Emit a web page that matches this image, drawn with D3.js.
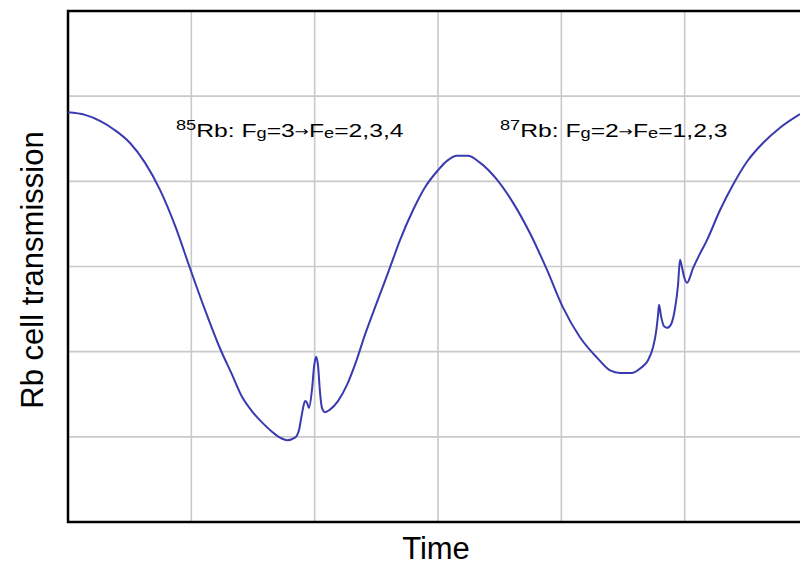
<!DOCTYPE html>
<html>
<head>
<meta charset="utf-8">
<script src="https://cdn.jsdelivr.net/npm/d3@7/dist/d3.min.js"></script>
<style>
  html, body { margin: 0; padding: 0; background: #fff; }
  svg { display: block; }
  text { font-family: "Liberation Sans", Arial, Helvetica, sans-serif; fill: #000; }
</style>
</head>
<body>
<svg id="chart" width="800" height="567"></svg>
<script>
// Time (arbitrary units, gridline every 100)
const time = [0, 13.8, 25.9, 38.1, 50.3, 62.4, 74.6, 86.8, 98.9, 111.1, 123.2, 133.0, 141.1, 149.2, 157.3, 165.4, 171.9, 177.6, 184.1, 187.3, 189.7, 192.2, 193.8, 195.4, 197.8, 199.5, 201.1, 202.7, 204.3, 205.9, 208.4, 212.4, 218.9, 226.2, 233.5, 240.8, 251.3, 261.1, 269.2, 279.7, 289.5, 300.0, 307.3, 315.4, 324.3, 334.0, 347.8, 360.8, 374.6, 388.4, 401.3, 415.1, 428.9, 439.5, 447.6, 457.3, 464.6, 470.3, 474.3, 476.8, 478.4, 479.2, 480.8, 483.2, 485.7, 488.9, 492.2, 494.6, 496.2, 497.8, 499.5, 501.9, 506.8, 512.4, 518.1, 528.6, 539.2, 550.5, 563.5, 577.3, 593.5];
// Rb cell transmission (arbitrary units, gridline every 1)
const transmission = [4.81, 4.78, 4.71, 4.60, 4.45, 4.22, 3.90, 3.48, 2.98, 2.49, 2.04, 1.73, 1.47, 1.30, 1.17, 1.06, 0.99, 0.96, 0.99, 1.08, 1.27, 1.42, 1.40, 1.34, 1.55, 1.82, 1.94, 1.84, 1.53, 1.34, 1.29, 1.32, 1.42, 1.61, 1.88, 2.20, 2.61, 2.99, 3.31, 3.66, 3.93, 4.13, 4.24, 4.30, 4.30, 4.22, 4.02, 3.75, 3.39, 2.96, 2.52, 2.17, 1.93, 1.78, 1.75, 1.75, 1.81, 1.90, 2.05, 2.23, 2.43, 2.55, 2.42, 2.30, 2.28, 2.32, 2.51, 2.78, 3.08, 2.99, 2.88, 2.81, 2.98, 3.15, 3.31, 3.66, 3.96, 4.23, 4.45, 4.63, 4.79];
const xTicks = [100, 200, 300, 400, 500];
const yTicks = [1, 2, 3, 4, 5];
const xDomain = [0, 600];
const yDomain = [0, 6];

const svg = d3.select("#chart");
const mL = 68, mT = 11, mR = 808, mB = 522;
const x = d3.scaleLinear().domain(xDomain).range([mL, mR]);
const y = d3.scaleLinear().domain(yDomain).range([mB, mT]);

// gridlines
const grid = svg.append("g").attr("stroke", "#c9c9c9").attr("stroke-width", 1.6);
grid.selectAll("line.v").data(xTicks).join("line").attr("class", "v")
  .attr("x1", d => x(d)).attr("x2", d => x(d)).attr("y1", mT).attr("y2", mB);
grid.selectAll("line.h").data(yTicks).join("line").attr("class", "h")
  .attr("x1", mL).attr("x2", mR).attr("y1", d => y(d)).attr("y2", d => y(d));

// frame
svg.append("rect").attr("x", mL).attr("y", mT).attr("width", mR - mL).attr("height", mB - mT)
  .attr("fill", "none").attr("stroke", "#000").attr("stroke-width", 2.5);

// curve
const data = time.map((t, i) => ({ t, v: transmission[i] }));
const line = d3.line().x(d => x(d.t)).y(d => y(d.v)).curve(d3.curveMonotoneX);
svg.append("path").datum(data).attr("d", line)
  .attr("fill", "none").attr("stroke", "#3a3ab0").attr("stroke-width", 2)
  .attr("stroke-linejoin", "round");

// annotations
function annot(xp, mass, g, e) {
  const t = svg.append("text").attr("transform", `translate(${xp},137) scale(1.3,1)`)
    .attr("font-size", 19);
  t.append("tspan").attr("font-size", 14).attr("dy", -7).text(mass);
  t.append("tspan").attr("dy", 7).text("Rb: F");
  t.append("tspan").attr("font-size", 14).attr("dy", 1).text("g");
  t.append("tspan").attr("dy", -1).text("=" + g);
  t.append("tspan").attr("font-family", "DejaVu Sans").attr("font-size", 13).attr("dy", -1).text("\u2192");
  t.append("tspan").attr("dy", 1).text("F");
  t.append("tspan").attr("font-size", 14).attr("dy", 1).text("e");
  t.append("tspan").attr("dy", -1).text("=" + e);
}
annot(176, "85", "3", "2,3,4");
annot(500, "87", "2", "1,2,3");

// axis labels
svg.append("text").attr("x", 436).attr("y", 559).attr("text-anchor", "middle")
  .attr("font-size", 31).text("Time");
svg.append("text").attr("transform", "translate(43,270) rotate(-90)").attr("text-anchor", "middle")
  .attr("font-size", 31).text("Rb cell transmission");
</script>
</body>
</html>
